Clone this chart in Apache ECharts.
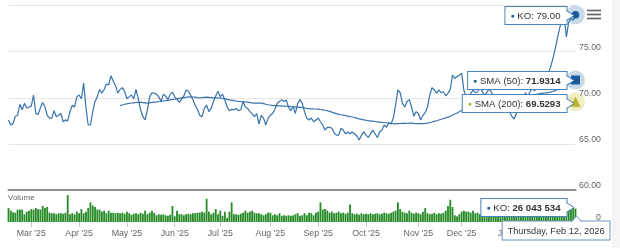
<!DOCTYPE html>
<html><head><meta charset="utf-8">
<script src="https://cdn.jsdelivr.net/npm/echarts@6/dist/echarts.min.js"></script>
<style>html,body{margin:0;padding:0;background:#fff}#c{width:620px;height:248px}</style>
</head><body><div id="c"></div>
<script>
// ---- data ----
const firstDay = '2025-02-14';
const lastDay = '2026-02-12';
const marketHolidays = ['2025-02-17','2025-04-18','2025-05-26','2025-06-19','2025-07-04','2025-09-01','2025-11-27','2025-12-25','2026-01-01','2026-01-19'];
const closePrices = [
67.6,67.05,67.2,68.0,68.1,69.3,68.7,69.4,68.9,69.0,
69.1,70.3,68.3,68.2,68.9,69.5,69.0,68.1,67.8,67.8,
68.6,67.95,68.1,68.3,67.4,67.6,67.5,68.5,69.2,69.0,
70.1,70.3,69.9,71.6,69.0,67.05,67.05,68.5,69.6,70.1,
70.9,70.5,70.9,71.5,71.4,72.4,71.8,71.3,70.5,70.9,
71.1,70.7,69.9,70.1,70.3,69.9,70.9,69.9,68.7,67.95,
67.6,68.7,70.1,70.55,70.5,70.4,70.1,69.6,70.4,70.2,
69.8,70.4,70.6,70.1,69.85,69.5,69.85,70.2,70.85,70.7,
70.3,69.8,69.2,68.7,68.1,67.95,68.85,69.2,68.5,68.85,
69.6,70.2,70.7,70.1,70.4,69.8,69.0,68.6,68.75,68.7,
68.85,68.6,68.7,69.6,69.0,68.85,68.5,68.25,67.95,68.3,
67.15,68.1,67.8,67.05,67.8,68.1,68.3,68.75,69.4,69.6,
69.8,69.6,69.75,68.95,68.6,69.1,68.3,69.4,69.8,69.4,
68.5,67.8,67.6,67.8,67.4,67.6,67.8,67.4,67.05,66.5,
66.8,66.8,66.7,66.2,65.95,65.95,66.7,66.5,66.1,66.3,
66.1,66.3,
66.1,65.86,65.42,65.95,66.3,65.95,65.7,66.1,66.5,66.1,
65.7,66.3,66.5,67.05,66.8,67.3,67.15,67.8,69.2,70.85,
70.55,69.4,69.0,69.6,69.8,69.0,68.0,68.5,68.3,67.6,
68.1,68.4,69.0,70.3,71.1,70.85,70.5,70.85,70.55,70.66,
70.2,70.5,70.9,72.47,72.1,72.3,72.47,72.65,70.8,70.0,
69.95,70.45,70.85,70.55,70.65,71.05,70.75,70.25,70.55,70.95,
70.65,70.15,69.85,70.25,69.95,69.55,69.85,69.25,68.55,68.0,
67.7,68.25,69.75,70.25,69.95,70.55,70.15,70.65,71.05,70.75,
71.25,70.95,71.45,71.65,
72.0,72.6,73.3,74.2,75.2,76.4,77.5,78.5,78.8,76.6,
78.2,78.6,78.4,79.0
];
const volumeMillions = [
27,22,19,18,24,24,24,15,20,22, 25,24,27,25,24,31,27,29,18,17,
17,15,17,17,16,18,52,15,17,15, 20,17,25,17,20,27,38,32,29,24,
24,20,22,17,22,18,18,17,18,17, 18,16,20,17,14,16,17,15,18,16,
22,15,18,22,18,13,15,14,15,13, 12,14,31,11,22,15,15,13,15,16,
15,17,17,18,18,20,18,45,20,15, 18,25,15,22,12,20,8,20,38,15,
15,14,16,18,22,18,20,22,18,17, 17,15,13,15,18,18,13,15,13,17,
12,13,12,13,12,13,15,17,12,13, 17,13,18,17,13,18,20,38,24,25,
22,18,20,17,18,20,17,18,16,18, 34,17,15,16,14,17,15,16,15,17,
15,16,17,15,16,18,17,16,18,20, 22,38,25,20,18,17,22,18,16,18,
17,15,20,27,17,15,16,18,15,17, 16,18,22,31,43,29,13,11,15,20,
22,20,20,18,22,17,18,15,20,16, 18,22,35,17,13,10,12,14,16,20,
22,18,20,17,19,16,18,20,17,18, 22,19,17,20,18,21,19,22,24,20,
23,22,26,30,27,31,28,24,29,26.043534
];
const priceTicks = [60, 65, 70, 75, 80];
const smaPeriods = [50, 200];
const tooltipSma50 = '71.9314';
const tooltipSma200 = '69.5293';
const tooltipClose = '79.00';
const tooltipVolume = '26 043 534';
const monthNames = ['Jan','Feb','Mar','Apr','May','Jun','Jul','Aug','Sep','Oct','Nov','Dec'];
const dayNames = ['Sunday','Monday','Tuesday','Wednesday','Thursday','Friday','Saturday'];

// ---- trading calendar (categories) ----
function tradingDays(from, to, holidays) {
  const out = [];
  const d = new Date(from + 'T00:00:00Z');
  const end = new Date(to + 'T00:00:00Z');
  while (d <= end) {
    const s = d.toISOString().slice(0, 10);
    const wd = d.getUTCDay();
    if (wd !== 0 && wd !== 6 && holidays.indexOf(s) < 0) out.push(s);
    d.setUTCDate(d.getUTCDate() + 1);
  }
  return out;
}
const dates = tradingDays(firstDay, lastDay, marketHolidays);
const volumes = volumeMillions.map(v => Math.round(v * 1e6));

// simple moving average indicator of the close
function sma(values, n) {
  return values.map((v, i) => {
    if (i < n - 1) return null;
    let s = 0;
    for (let k = i - n + 1; k <= i; k++) s += values[k];
    return +(s / n).toFixed(4);
  });
}
const sma50 = sma(closePrices, smaPeriods[0]);
const sma200 = sma(closePrices, smaPeriods[1]);

const FONT = '"Liberation Sans", Arial, Helvetica, sans-serif';
const BLUE = '#3672ad';
const DARKBLUE = '#1d5a9c';
const OLIVE = '#b8b628';
const last = dates.length - 1;
const monthStart = (i) => i > 0 && dates[i].slice(5, 7) !== dates[i - 1].slice(5, 7);
const fmtMonth = (s) => monthNames[+s.slice(5, 7) - 1] + " '" + s.slice(2, 4);

const chart = echarts.init(document.getElementById('c'), null, {renderer: 'canvas'});
chart.setOption({
  animation: false,
  backgroundColor: '#ffffff',
  textStyle: {fontFamily: FONT},
  grid: [
    {left: 8.5, right: 44.5, top: 5.6, bottom: 58},
    {left: 8.5, right: 44.5, top: 191, bottom: 26}
  ],
  xAxis: [
    {type: 'category', gridIndex: 0, data: dates, boundaryGap: false,
     axisLine: {show: true, lineStyle: {color: '#8f8f8f', width: 2}},
     axisTick: {show: false}, axisLabel: {show: false}, splitLine: {show: false}},
    {type: 'category', gridIndex: 1, data: dates, boundaryGap: false,
     axisLine: {show: false},
     axisTick: {show: true, interval: monthStart, length: 5, lineStyle: {color: '#cccccc'}},
     axisLabel: {show: true, interval: monthStart, formatter: fmtMonth, color: '#666666',
                 fontSize: 8.8, margin: 7.5, fontFamily: FONT},
     splitLine: {show: false}}
  ],
  yAxis: [
    {type: 'value', gridIndex: 0, position: 'right', min: priceTicks[0], max: priceTicks[priceTicks.length - 1],
     interval: 5,
     axisLine: {show: false}, axisTick: {show: false},
     splitLine: {show: true, lineStyle: {color: '#e6e6e6', width: 1}},
     axisLabel: {show: true, align: 'right', margin: 25.5, verticalAlign: 'bottom', color: '#666666',
                 fontSize: 8.8, fontFamily: FONT,
                 formatter: v => (v === priceTicks[priceTicks.length - 1] ? '' : v.toFixed(2))}},
    {type: 'value', gridIndex: 1, position: 'right', min: 0, max: 60e6, interval: 60e6,
     axisLine: {show: false}, axisTick: {show: false}, splitLine: {show: false},
     axisLabel: {show: true, align: 'right', margin: 25.5, verticalAlign: 'bottom', color: '#666666',
                 fontSize: 8.8, fontFamily: FONT, formatter: v => (v === 0 ? '0' : '')}}
  ],
  series: [
    {name: 'KO', type: 'line', xAxisIndex: 0, yAxisIndex: 0, data: closePrices,
     showSymbol: false, lineStyle: {color: BLUE, width: 1.2}, z: 3,
     markPoint: {symbol: 'circle', label: {show: false}, animation: false,
       data: [
         {coord: [dates[last], closePrices[last]], symbolSize: 19, itemStyle: {color: 'rgba(58,118,176,0.28)'}},
         {coord: [dates[last], closePrices[last]], symbolSize: 7.5, itemStyle: {color: DARKBLUE}}
       ]}},
    {name: 'SMA (50)', type: 'line', xAxisIndex: 0, yAxisIndex: 0, data: sma50,
     showSymbol: false, lineStyle: {color: BLUE, width: 1.2}, z: 2,
     markPoint: {label: {show: false}, animation: false,
       data: [
         {coord: [dates[last], sma50[last]], symbol: 'circle', symbolSize: 19, itemStyle: {color: 'rgba(58,118,176,0.28)'}},
         {coord: [dates[last], sma50[last]], symbol: 'rect', symbolSize: 9, itemStyle: {color: DARKBLUE}}
       ]}},
    {name: 'SMA (200)', type: 'line', xAxisIndex: 0, yAxisIndex: 0, data: sma200,
     showSymbol: false, lineStyle: {color: OLIVE, width: 1.2}, z: 2,
     markPoint: {label: {show: false}, animation: false,
       data: [
         {coord: [dates[last], sma200[last]], symbol: 'circle', symbolSize: 19, itemStyle: {color: 'rgba(200,200,60,0.3)'}},
         {coord: [dates[last], sma200[last]], symbol: 'triangle', symbolSize: 10, itemStyle: {color: OLIVE}}
       ]}},
    {name: 'Volume', type: 'bar', xAxisIndex: 1, yAxisIndex: 1, data: volumes,
     barWidth: '80%', itemStyle: {color: '#268a26'}}
  ]
});

// ---- split tooltip callouts anchored to the last data points ----
function px(seriesIndex, value) {
  return chart.convertToPixel({seriesIndex: seriesIndex}, [last, value]);
}
const els = [];
function callout(p, dotColor, label, value, bold, border) {
  const ex = Math.round(p[0] - 10) + 0.5;
  const cy = Math.round(p[1]) + 0.5;
  els.push({type: 'text', z: 100, x: ex, y: cy,
    style: {text: '{d|●} ' + label + (bold ? '{b|' + value + '}' : value),
      align: 'right', verticalAlign: 'middle', fill: '#333333', fontSize: 9.6, fontFamily: FONT,
      backgroundColor: '#ffffff', borderColor: border, borderWidth: 1, padding: [4, 6, 3, 5],
      rich: {d: {fill: dotColor, fontSize: 7, fontFamily: FONT},
             b: {fontWeight: 'bold', fill: '#333333', fontSize: 9.6, fontFamily: FONT}}}});
  els.push({type: 'polygon', z: 101, shape: {points: [[ex - 1.5, cy - 5], [ex + 7.5, cy], [ex - 1.5, cy + 5]]},
    style: {fill: '#ffffff'}});
  els.push({type: 'polyline', z: 102, shape: {points: [[ex, cy - 5], [ex + 7.5, cy], [ex, cy + 5]]},
    style: {stroke: border, lineWidth: 1, fill: null}});
}
const pKO = px(0, closePrices[last]);
const pS50 = px(1, sma50[last]);
const pS200 = px(2, sma200[last]);
const pVol = px(3, volumes[last]);
callout(pKO, DARKBLUE, 'KO: ', tooltipClose, false, '#4a84bc');
callout(pS50, DARKBLUE, 'SMA (50): ', tooltipSma50, true, '#4a84bc');
callout([pS200[0], pS200[1] + 1], OLIVE, 'SMA (200): ', tooltipSma200, true, '#4a84bc');
callout([pVol[0], pVol[1] - 2], DARKBLUE, 'KO: ', tooltipVolume, true, '#4a84bc');

// date label box under the axis
const ld = new Date(dates[last] + 'T00:00:00Z');
const dateText = dayNames[ld.getUTCDay()] + ', ' + monthNames[ld.getUTCMonth()] + ' ' + ld.getUTCDate() + ', ' + ld.getUTCFullYear();
const ax = Math.round(pKO[0]) + 0.5;
els.push({type: 'text', z: 100, x: 609.5, y: 221.5,
  style: {text: dateText, align: 'right', verticalAlign: 'top', fill: '#333333', fontSize: 9.2, fontFamily: FONT,
    backgroundColor: '#ffffff', borderColor: '#6a90b8', borderWidth: 1, padding: [5, 5, 4, 5]}});
els.push({type: 'polygon', z: 101, shape: {points: [[ax - 5, 223], [ax, 216], [ax + 5, 223]]}, style: {fill: '#ffffff'}});
els.push({type: 'polyline', z: 102, shape: {points: [[ax - 5, 221.5], [ax, 216], [ax + 5, 221.5]]},
  style: {stroke: '#6a90b8', lineWidth: 1, fill: null}});

// pane title, menu icon, right strip
els.push({type: 'text', z: 50, x: 8, y: 193.5, style: {text: 'Volume', fill: '#666666', fontSize: 8, fontFamily: FONT}});
[10.5, 14.5, 18.5].forEach(y => els.push({type: 'line', z: 50, shape: {x1: 587, y1: y, x2: 601, y2: y},
  style: {stroke: '#666666', lineWidth: 1.7}}));
els.push({type: 'rect', z: 1, shape: {x: 612, y: 0, width: 8, height: 248}, style: {fill: '#f4f4f4'}});

chart.setOption({graphic: els});
</script>
</body></html>
